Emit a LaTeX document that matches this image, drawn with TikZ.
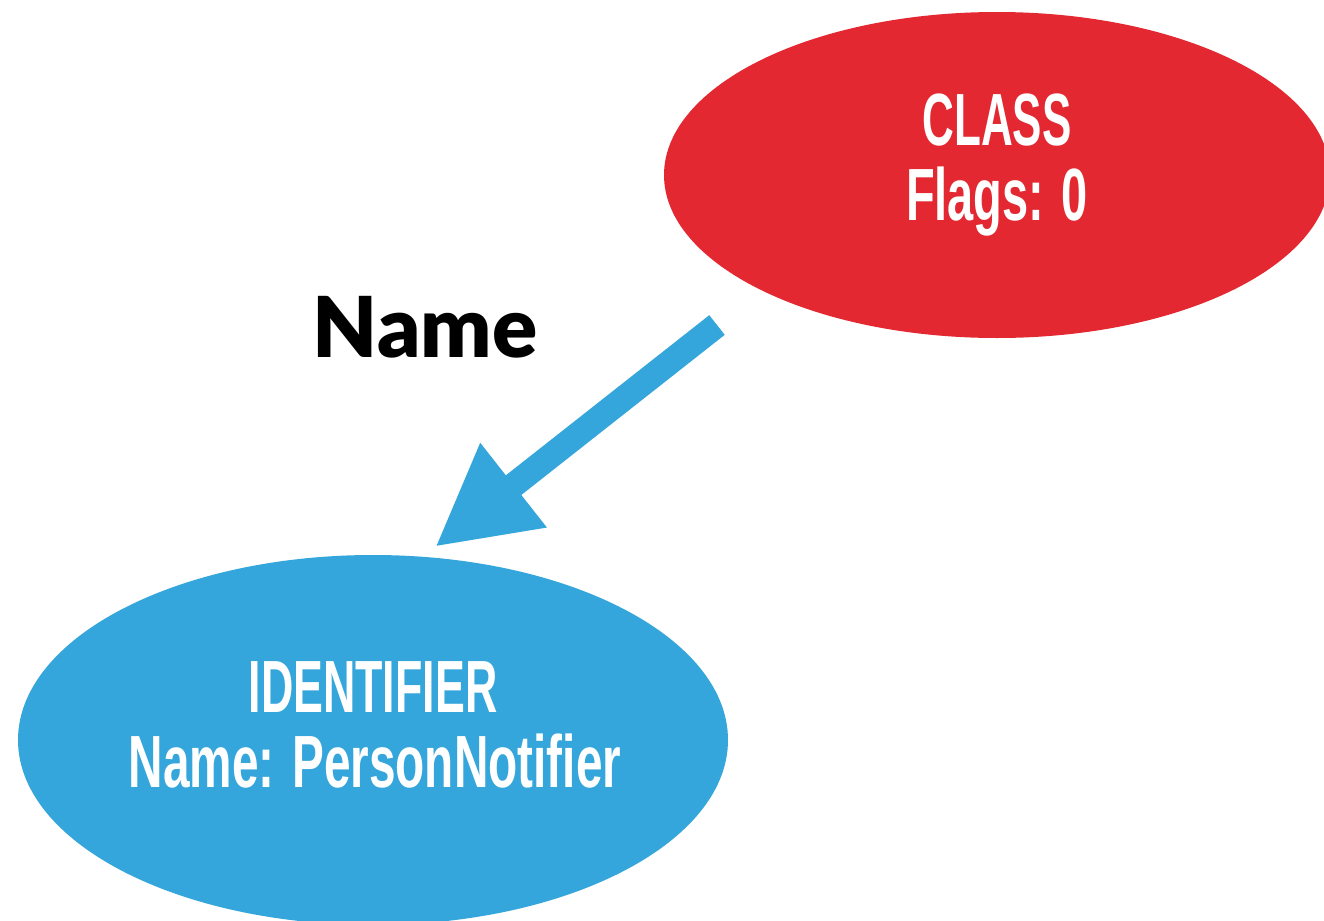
\documentclass[tikz,border=0pt]{standalone}
\usepackage{fontspec}
\setmainfont{Liberation Sans}
\newfontfamily\condfont{Liberation Sans}
\newfontfamily\labelfont{Lato Black}
\usetikzlibrary{shapes.geometric,arrows.meta}
\definecolor{cred}{HTML}{E32831}
\definecolor{cblue}{HTML}{35A6DB}
\tikzset{
  blob/.style={ellipse, inner sep=0pt},
  inlbl/.style={text=white, inner sep=0pt, font=\condfont\fontsize{37}{39}\bfseries\selectfont},
  flow/.style={draw=cblue, line width=12.5pt, -{Triangle[length=50pt,width=50pt]}},
}
\newcommand{\cond}[2]{\scalebox{#1}[1]{#2}}
\begin{document}
\begin{tikzpicture}[x=0.5pt,y=-0.5pt]
\useasboundingbox (0,0) rectangle (1324,921);
\clip (0,0) rectangle (1324,921);
\fill[white] (0,0) rectangle (1324,921);
\node[blob, fill=cred, minimum width=333pt, minimum height=163pt] (cls) at (997,175) {};
\node[blob, fill=cblue, minimum width=355pt, minimum height=185pt] (ident) at (373,740) {};
\node[inlbl, anchor=base] (cls1) at (997,145) {\cond{0.595}{CLASS}};
\node[inlbl, anchor=base] (cls2) at (997,220) {\cond{0.635}{Flags: 0}};
\node[inlbl, anchor=base] (id1) at (373,712) {\cond{0.605}{IDENTIFIER}};
\node[inlbl, anchor=base] (id2) at (375,787) {\cond{0.645}{Name: PersonNotifier}};
\coordinate (s) at (717,325);
\coordinate (t) at (435,547);
\draw[flow] (s) -- (t);
\node[anchor=base, inner sep=0pt, font=\labelfont\fontsize{42}{44}\selectfont] (nm) at (425,357) {Name};
\end{tikzpicture}
\end{document}
